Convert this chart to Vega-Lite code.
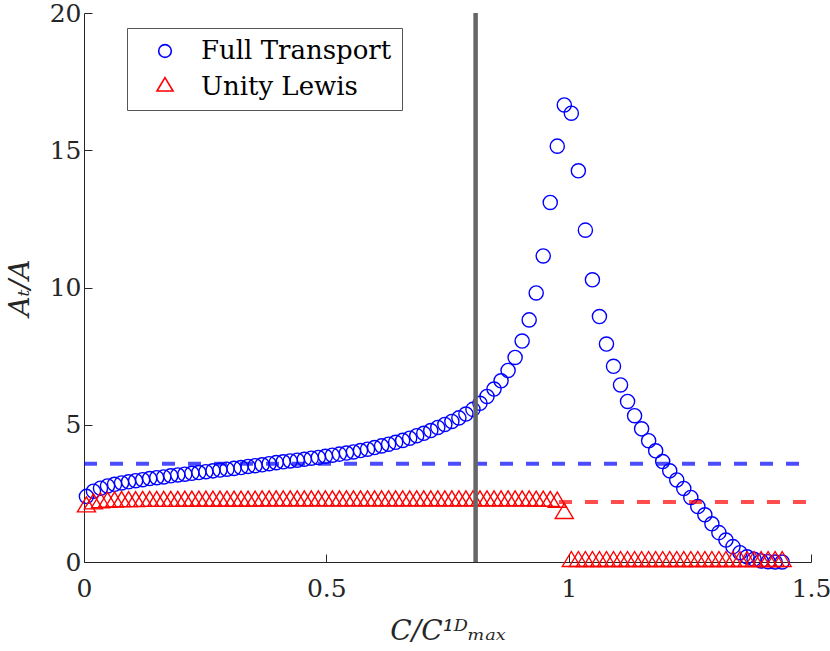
{
  "$schema": "https://vega.github.io/schema/vega-lite/v6.json",
  "width": 727,
  "height": 549,
  "autosize": "none",
  "padding": {"left": 84, "top": 13, "right": 19, "bottom": 89},
  "background": "white",
  "datasets": {
    "points": [
      {"x": 0.005, "y": 2.39, "series": "Full Transport"},
      {"x": 0.0195, "y": 2.58, "series": "Full Transport"},
      {"x": 0.034, "y": 2.69, "series": "Full Transport"},
      {"x": 0.0485, "y": 2.77, "series": "Full Transport"},
      {"x": 0.063, "y": 2.83, "series": "Full Transport"},
      {"x": 0.0775, "y": 2.88, "series": "Full Transport"},
      {"x": 0.092, "y": 2.92, "series": "Full Transport"},
      {"x": 0.1065, "y": 2.96, "series": "Full Transport"},
      {"x": 0.121, "y": 3.0, "series": "Full Transport"},
      {"x": 0.1355, "y": 3.04, "series": "Full Transport"},
      {"x": 0.15, "y": 3.07, "series": "Full Transport"},
      {"x": 0.1645, "y": 3.1, "series": "Full Transport"},
      {"x": 0.179, "y": 3.14, "series": "Full Transport"},
      {"x": 0.1935, "y": 3.17, "series": "Full Transport"},
      {"x": 0.208, "y": 3.2, "series": "Full Transport"},
      {"x": 0.2225, "y": 3.23, "series": "Full Transport"},
      {"x": 0.237, "y": 3.26, "series": "Full Transport"},
      {"x": 0.2515, "y": 3.29, "series": "Full Transport"},
      {"x": 0.266, "y": 3.32, "series": "Full Transport"},
      {"x": 0.2805, "y": 3.35, "series": "Full Transport"},
      {"x": 0.295, "y": 3.38, "series": "Full Transport"},
      {"x": 0.3095, "y": 3.41, "series": "Full Transport"},
      {"x": 0.324, "y": 3.44, "series": "Full Transport"},
      {"x": 0.3385, "y": 3.48, "series": "Full Transport"},
      {"x": 0.353, "y": 3.51, "series": "Full Transport"},
      {"x": 0.3675, "y": 3.54, "series": "Full Transport"},
      {"x": 0.382, "y": 3.58, "series": "Full Transport"},
      {"x": 0.3965, "y": 3.62, "series": "Full Transport"},
      {"x": 0.411, "y": 3.65, "series": "Full Transport"},
      {"x": 0.4255, "y": 3.68, "series": "Full Transport"},
      {"x": 0.44, "y": 3.71, "series": "Full Transport"},
      {"x": 0.4545, "y": 3.74, "series": "Full Transport"},
      {"x": 0.469, "y": 3.78, "series": "Full Transport"},
      {"x": 0.4835, "y": 3.81, "series": "Full Transport"},
      {"x": 0.498, "y": 3.85, "series": "Full Transport"},
      {"x": 0.5125, "y": 3.89, "series": "Full Transport"},
      {"x": 0.527, "y": 3.93, "series": "Full Transport"},
      {"x": 0.5415, "y": 3.97, "series": "Full Transport"},
      {"x": 0.556, "y": 4.01, "series": "Full Transport"},
      {"x": 0.5705, "y": 4.06, "series": "Full Transport"},
      {"x": 0.585, "y": 4.11, "series": "Full Transport"},
      {"x": 0.5995, "y": 4.17, "series": "Full Transport"},
      {"x": 0.614, "y": 4.23, "series": "Full Transport"},
      {"x": 0.6285, "y": 4.29, "series": "Full Transport"},
      {"x": 0.643, "y": 4.36, "series": "Full Transport"},
      {"x": 0.6575, "y": 4.43, "series": "Full Transport"},
      {"x": 0.672, "y": 4.51, "series": "Full Transport"},
      {"x": 0.6865, "y": 4.6, "series": "Full Transport"},
      {"x": 0.701, "y": 4.69, "series": "Full Transport"},
      {"x": 0.7155, "y": 4.79, "series": "Full Transport"},
      {"x": 0.73, "y": 4.9, "series": "Full Transport"},
      {"x": 0.7445, "y": 5.01, "series": "Full Transport"},
      {"x": 0.759, "y": 5.12, "series": "Full Transport"},
      {"x": 0.7735, "y": 5.25, "series": "Full Transport"},
      {"x": 0.788, "y": 5.39, "series": "Full Transport"},
      {"x": 0.8025, "y": 5.56, "series": "Full Transport"},
      {"x": 0.817, "y": 5.78, "series": "Full Transport"},
      {"x": 0.8315, "y": 6.03, "series": "Full Transport"},
      {"x": 0.846, "y": 6.3, "series": "Full Transport"},
      {"x": 0.8605, "y": 6.6, "series": "Full Transport"},
      {"x": 0.875, "y": 6.98, "series": "Full Transport"},
      {"x": 0.8895, "y": 7.45, "series": "Full Transport"},
      {"x": 0.904, "y": 8.05, "series": "Full Transport"},
      {"x": 0.9185, "y": 8.82, "series": "Full Transport"},
      {"x": 0.933, "y": 9.8, "series": "Full Transport"},
      {"x": 0.9475, "y": 11.15, "series": "Full Transport"},
      {"x": 0.962, "y": 13.1, "series": "Full Transport"},
      {"x": 0.9765, "y": 15.15, "series": "Full Transport"},
      {"x": 0.991, "y": 16.65, "series": "Full Transport"},
      {"x": 1.0055, "y": 16.35, "series": "Full Transport"},
      {"x": 1.02, "y": 14.25, "series": "Full Transport"},
      {"x": 1.0345, "y": 12.09, "series": "Full Transport"},
      {"x": 1.049, "y": 10.28, "series": "Full Transport"},
      {"x": 1.0635, "y": 8.94, "series": "Full Transport"},
      {"x": 1.078, "y": 7.94, "series": "Full Transport"},
      {"x": 1.0925, "y": 7.13, "series": "Full Transport"},
      {"x": 1.107, "y": 6.45, "series": "Full Transport"},
      {"x": 1.1215, "y": 5.85, "series": "Full Transport"},
      {"x": 1.136, "y": 5.33, "series": "Full Transport"},
      {"x": 1.1505, "y": 4.85, "series": "Full Transport"},
      {"x": 1.165, "y": 4.42, "series": "Full Transport"},
      {"x": 1.1795, "y": 4.05, "series": "Full Transport"},
      {"x": 1.194, "y": 3.66, "series": "Full Transport"},
      {"x": 1.2085, "y": 3.32, "series": "Full Transport"},
      {"x": 1.223, "y": 2.99, "series": "Full Transport"},
      {"x": 1.2375, "y": 2.68, "series": "Full Transport"},
      {"x": 1.252, "y": 2.35, "series": "Full Transport"},
      {"x": 1.2665, "y": 2.02, "series": "Full Transport"},
      {"x": 1.281, "y": 1.72, "series": "Full Transport"},
      {"x": 1.2955, "y": 1.39, "series": "Full Transport"},
      {"x": 1.31, "y": 1.07, "series": "Full Transport"},
      {"x": 1.3245, "y": 0.8, "series": "Full Transport"},
      {"x": 1.339, "y": 0.56, "series": "Full Transport"},
      {"x": 1.3535, "y": 0.34, "series": "Full Transport"},
      {"x": 1.368, "y": 0.19, "series": "Full Transport"},
      {"x": 1.3825, "y": 0.1, "series": "Full Transport"},
      {"x": 1.397, "y": 0.04, "series": "Full Transport"},
      {"x": 1.4115, "y": 0.01, "series": "Full Transport"},
      {"x": 1.426, "y": 0.0, "series": "Full Transport"},
      {"x": 1.4405, "y": 0.0, "series": "Full Transport"},
      {"x": 0.005, "y": 1.99, "series": "Unity Lewis"},
      {"x": 0.0195, "y": 2.1, "series": "Unity Lewis"},
      {"x": 0.034, "y": 2.14, "series": "Unity Lewis"},
      {"x": 0.0485, "y": 2.16, "series": "Unity Lewis"},
      {"x": 0.063, "y": 2.17, "series": "Unity Lewis"},
      {"x": 0.0775, "y": 2.18, "series": "Unity Lewis"},
      {"x": 0.092, "y": 2.18, "series": "Unity Lewis"},
      {"x": 0.1065, "y": 2.18, "series": "Unity Lewis"},
      {"x": 0.121, "y": 2.19, "series": "Unity Lewis"},
      {"x": 0.1355, "y": 2.19, "series": "Unity Lewis"},
      {"x": 0.15, "y": 2.19, "series": "Unity Lewis"},
      {"x": 0.1645, "y": 2.19, "series": "Unity Lewis"},
      {"x": 0.179, "y": 2.19, "series": "Unity Lewis"},
      {"x": 0.1935, "y": 2.19, "series": "Unity Lewis"},
      {"x": 0.208, "y": 2.2, "series": "Unity Lewis"},
      {"x": 0.2225, "y": 2.2, "series": "Unity Lewis"},
      {"x": 0.237, "y": 2.2, "series": "Unity Lewis"},
      {"x": 0.2515, "y": 2.2, "series": "Unity Lewis"},
      {"x": 0.266, "y": 2.2, "series": "Unity Lewis"},
      {"x": 0.2805, "y": 2.2, "series": "Unity Lewis"},
      {"x": 0.295, "y": 2.2, "series": "Unity Lewis"},
      {"x": 0.3095, "y": 2.2, "series": "Unity Lewis"},
      {"x": 0.324, "y": 2.2, "series": "Unity Lewis"},
      {"x": 0.3385, "y": 2.2, "series": "Unity Lewis"},
      {"x": 0.353, "y": 2.2, "series": "Unity Lewis"},
      {"x": 0.3675, "y": 2.21, "series": "Unity Lewis"},
      {"x": 0.382, "y": 2.21, "series": "Unity Lewis"},
      {"x": 0.3965, "y": 2.21, "series": "Unity Lewis"},
      {"x": 0.411, "y": 2.21, "series": "Unity Lewis"},
      {"x": 0.4255, "y": 2.21, "series": "Unity Lewis"},
      {"x": 0.44, "y": 2.21, "series": "Unity Lewis"},
      {"x": 0.4545, "y": 2.21, "series": "Unity Lewis"},
      {"x": 0.469, "y": 2.21, "series": "Unity Lewis"},
      {"x": 0.4835, "y": 2.21, "series": "Unity Lewis"},
      {"x": 0.498, "y": 2.21, "series": "Unity Lewis"},
      {"x": 0.5125, "y": 2.21, "series": "Unity Lewis"},
      {"x": 0.527, "y": 2.21, "series": "Unity Lewis"},
      {"x": 0.5415, "y": 2.21, "series": "Unity Lewis"},
      {"x": 0.556, "y": 2.21, "series": "Unity Lewis"},
      {"x": 0.5705, "y": 2.21, "series": "Unity Lewis"},
      {"x": 0.585, "y": 2.21, "series": "Unity Lewis"},
      {"x": 0.5995, "y": 2.21, "series": "Unity Lewis"},
      {"x": 0.614, "y": 2.21, "series": "Unity Lewis"},
      {"x": 0.6285, "y": 2.21, "series": "Unity Lewis"},
      {"x": 0.643, "y": 2.21, "series": "Unity Lewis"},
      {"x": 0.6575, "y": 2.21, "series": "Unity Lewis"},
      {"x": 0.672, "y": 2.21, "series": "Unity Lewis"},
      {"x": 0.6865, "y": 2.21, "series": "Unity Lewis"},
      {"x": 0.701, "y": 2.21, "series": "Unity Lewis"},
      {"x": 0.7155, "y": 2.21, "series": "Unity Lewis"},
      {"x": 0.73, "y": 2.21, "series": "Unity Lewis"},
      {"x": 0.7445, "y": 2.21, "series": "Unity Lewis"},
      {"x": 0.759, "y": 2.21, "series": "Unity Lewis"},
      {"x": 0.7735, "y": 2.21, "series": "Unity Lewis"},
      {"x": 0.788, "y": 2.21, "series": "Unity Lewis"},
      {"x": 0.8025, "y": 2.21, "series": "Unity Lewis"},
      {"x": 0.817, "y": 2.21, "series": "Unity Lewis"},
      {"x": 0.8315, "y": 2.21, "series": "Unity Lewis"},
      {"x": 0.846, "y": 2.21, "series": "Unity Lewis"},
      {"x": 0.8605, "y": 2.21, "series": "Unity Lewis"},
      {"x": 0.875, "y": 2.21, "series": "Unity Lewis"},
      {"x": 0.8895, "y": 2.21, "series": "Unity Lewis"},
      {"x": 0.904, "y": 2.21, "series": "Unity Lewis"},
      {"x": 0.9185, "y": 2.21, "series": "Unity Lewis"},
      {"x": 0.933, "y": 2.2, "series": "Unity Lewis"},
      {"x": 0.9475, "y": 2.2, "series": "Unity Lewis"},
      {"x": 0.962, "y": 2.19, "series": "Unity Lewis"},
      {"x": 0.9765, "y": 2.16, "series": "Unity Lewis"},
      {"x": 0.991, "y": 1.75, "series": "Unity Lewis"},
      {"x": 1.0055, "y": 0.0, "series": "Unity Lewis"},
      {"x": 1.02, "y": 0.0, "series": "Unity Lewis"},
      {"x": 1.0345, "y": 0.0, "series": "Unity Lewis"},
      {"x": 1.049, "y": 0.0, "series": "Unity Lewis"},
      {"x": 1.0635, "y": 0.0, "series": "Unity Lewis"},
      {"x": 1.078, "y": 0.0, "series": "Unity Lewis"},
      {"x": 1.0925, "y": 0.0, "series": "Unity Lewis"},
      {"x": 1.107, "y": 0.0, "series": "Unity Lewis"},
      {"x": 1.1215, "y": 0.0, "series": "Unity Lewis"},
      {"x": 1.136, "y": 0.0, "series": "Unity Lewis"},
      {"x": 1.1505, "y": 0.0, "series": "Unity Lewis"},
      {"x": 1.165, "y": 0.0, "series": "Unity Lewis"},
      {"x": 1.1795, "y": 0.0, "series": "Unity Lewis"},
      {"x": 1.194, "y": 0.0, "series": "Unity Lewis"},
      {"x": 1.2085, "y": 0.0, "series": "Unity Lewis"},
      {"x": 1.223, "y": 0.0, "series": "Unity Lewis"},
      {"x": 1.2375, "y": 0.0, "series": "Unity Lewis"},
      {"x": 1.252, "y": 0.0, "series": "Unity Lewis"},
      {"x": 1.2665, "y": 0.0, "series": "Unity Lewis"},
      {"x": 1.281, "y": 0.0, "series": "Unity Lewis"},
      {"x": 1.2955, "y": 0.0, "series": "Unity Lewis"},
      {"x": 1.31, "y": 0.0, "series": "Unity Lewis"},
      {"x": 1.3245, "y": 0.0, "series": "Unity Lewis"},
      {"x": 1.339, "y": 0.0, "series": "Unity Lewis"},
      {"x": 1.3535, "y": 0.0, "series": "Unity Lewis"},
      {"x": 1.368, "y": 0.0, "series": "Unity Lewis"},
      {"x": 1.3825, "y": 0.0, "series": "Unity Lewis"},
      {"x": 1.397, "y": 0.0, "series": "Unity Lewis"},
      {"x": 1.4115, "y": 0.0, "series": "Unity Lewis"},
      {"x": 1.426, "y": 0.0, "series": "Unity Lewis"},
      {"x": 1.4405, "y": 0.0, "series": "Unity Lewis"}
    ],
    "levels": [
      {"series": "Full Transport", "y": 3.58, "x": 0, "x2": 1.49},
      {"series": "Unity Lewis", "y": 2.19, "x": 0.98, "x2": 1.49}
    ],
    "marker": [
      {"x": 0.808}
    ]
  },
  "layer": [
    {
      "data": {"name": "points"},
      "mark": {"type": "point", "filled": false, "size": 200, "strokeWidth": 1.4, "opacity": 1},
      "encoding": {
        "x": {
          "field": "x",
          "type": "quantitative",
          "scale": {"domain": [0, 1.5], "nice": false, "zero": false},
          "axis": {"values": [0, 0.5, 1, 1.5], "labelExpr": "'' + datum.value", "title": "C/C¹ᴰₘₐₓ", "titlePadding": 16, "labelPadding": 22}
        },
        "y": {
          "field": "y",
          "type": "quantitative",
          "scale": {"domain": [0, 20], "nice": false},
          "axis": {"values": [0, 5, 10, 15, 20], "title": "Aₜ/A", "titlePadding": 15, "labelPadding": 11}
        },
        "color": {
          "field": "series",
          "type": "nominal",
          "scale": {"domain": ["Full Transport", "Unity Lewis"], "range": ["#0000ff", "#ff0000"]},
          "legend": {"title": null, "orient": "none", "legendX": 43, "legendY": 15}
        },
        "shape": {
          "field": "series",
          "type": "nominal",
          "scale": {"domain": ["Full Transport", "Unity Lewis"], "range": ["circle", "M0,-1.485L1.273,0.636L-1.273,0.636Z"]},
          "legend": {"title": null, "orient": "none", "legendX": 43, "legendY": 15}
        }
      }
    },
    {
      "data": {"name": "levels"},
      "transform": [{"filter": "datum.series == 'Full Transport'"}],
      "mark": {"type": "rule", "color": "#0000ff", "opacity": 0.7, "strokeWidth": 4, "strokeDash": [13, 13]},
      "encoding": {
        "x": {"field": "x", "type": "quantitative"},
        "x2": {"field": "x2"},
        "y": {"field": "y", "type": "quantitative"}
      }
    },
    {
      "data": {"name": "levels"},
      "transform": [{"filter": "datum.series == 'Unity Lewis'"}],
      "mark": {"type": "rule", "color": "#ff0000", "opacity": 0.7, "strokeWidth": 4, "strokeDash": [13, 13]},
      "encoding": {
        "x": {"field": "x", "type": "quantitative"},
        "x2": {"field": "x2"},
        "y": {"field": "y", "type": "quantitative"}
      }
    },
    {
      "data": {"name": "marker"},
      "mark": {"type": "rule", "color": "#666666", "strokeWidth": 4.5},
      "encoding": {
        "x": {"field": "x", "type": "quantitative"}
      }
    }
  ],
  "config": {
    "view": {"stroke": null},
    "font": "DejaVu Serif",
    "axis": {
      "grid": false,
      "domainColor": "#262626",
      "domainWidth": 1,
      "tickColor": "#262626",
      "tickSize": -8,
      "tickWidth": 1,
      "labelFont": "DejaVu Serif",
      "labelFontSize": 25,
      "labelColor": "#262626",
      "labelFlush": false,
      "titleFont": "DejaVu Serif",
      "titleFontSize": 28,
      "titleFontStyle": "italic",
      "titleFontWeight": "normal",
      "titleColor": "#262626"
    },
    "legend": {
      "labelFont": "DejaVu Serif",
      "labelFontSize": 26,
      "labelColor": "#000000",
      "labelLimit": 400,
      "symbolSize": 160,
      "symbolStrokeWidth": 1.6,
      "symbolOffset": 15,
      "labelOffset": 23,
      "rowPadding": 10,
      "padding": 10,
      "strokeColor": "#555555",
      "fillColor": "white",
      "cornerRadius": 0
    }
  }
}
